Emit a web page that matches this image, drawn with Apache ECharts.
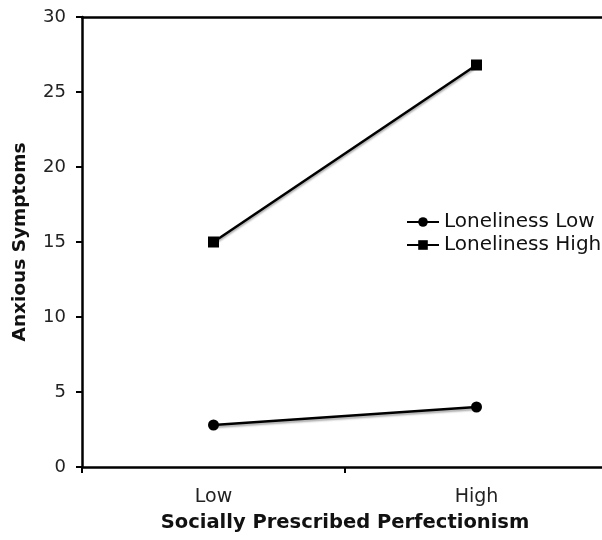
<!DOCTYPE html>
<html><head><meta charset="utf-8">
<script src="https://cdn.jsdelivr.net/npm/echarts@6/dist/echarts.min.js"></script>
<style>html,body{margin:0;padding:0;background:#fff}#c{width:602px;height:540px}</style>
</head><body><div id="c"></div>
<script>
const categories = ['Low', 'High'];
const lonelinessLow = [2.8, 4.0];
const lonelinessHigh = [15.0, 26.8];
const yTicks = [0, 5, 10, 15, 20, 25, 30];

const font = 'DejaVu Sans';
const chart = echarts.init(document.getElementById('c'));
const shadow = {shadowColor: 'rgba(0,0,0,0.35)', shadowBlur: 2, shadowOffsetY: 2};
chart.setOption({
  animation: false,
  grid: {left: 82, top: 17, width: 526, height: 450, containLabel: false, outerBoundsMode: 'none'},
  legend: {
    orient: 'vertical', left: 401, top: 207, itemGap: 3, itemWidth: 32, itemHeight: 12,
    textStyle: {fontFamily: font, fontSize: 20, color: '#111'},
    data: ['Loneliness Low', 'Loneliness High']
  },
  xAxis: [{
    type: 'category', data: categories, boundaryGap: true,
    axisLine: {lineStyle: {color: '#000', width: 2.5}},
    axisTick: {show: true, length: 6, lineStyle: {color: '#000', width: 2}},
    axisLabel: {fontFamily: font, fontSize: 19, color: '#222', margin: 21},
    name: 'Socially Prescribed Perfectionism', nameLocation: 'middle', nameGap: 46,
    nameTextStyle: {fontFamily: font, fontSize: 19.5, fontWeight: 'bold', color: '#111'}
  }, {
    type: 'category', data: categories, position: 'top',
    axisLine: {lineStyle: {color: '#000', width: 2.5}},
    axisTick: {show: false}, axisLabel: {show: false}
  }],
  yAxis: {
    type: 'value', min: 0, max: 30, interval: 5,
    axisLine: {show: true, lineStyle: {color: '#000', width: 2.5}},
    axisTick: {show: true, length: 6, lineStyle: {color: '#000', width: 2}},
    splitLine: {show: false},
    axisLabel: {fontFamily: font, fontSize: 18, color: '#222', margin: 16,
      formatter: v => yTicks.includes(v) ? String(v) : ''},
    name: 'Anxious Symptoms', nameLocation: 'middle', nameGap: 52,
    nameTextStyle: {fontFamily: font, fontSize: 18.5, fontWeight: 'bold', color: '#111'}
  },
  series: [{
    name: 'Loneliness Low', type: 'line', data: lonelinessLow,
    symbol: 'circle', symbolSize: 11,
    lineStyle: Object.assign({color: '#000', width: 2.5}, shadow),
    itemStyle: {color: '#000'}
  }, {
    name: 'Loneliness High', type: 'line', data: lonelinessHigh,
    symbol: 'rect', symbolSize: 11,
    lineStyle: Object.assign({color: '#000', width: 2.5}, shadow),
    itemStyle: {color: '#000'}
  }]
});
</script></body></html>
